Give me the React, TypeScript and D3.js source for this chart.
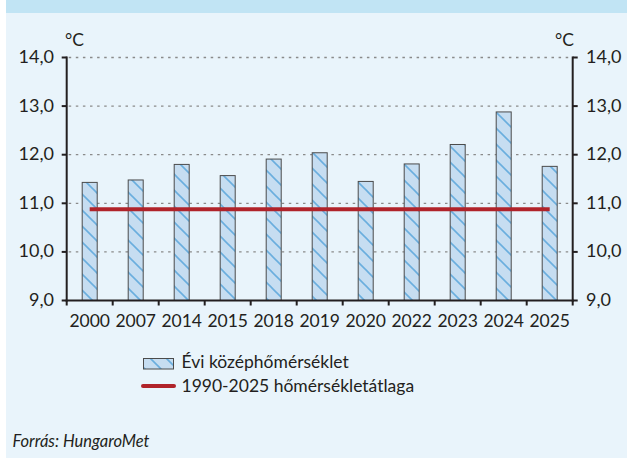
import React from "react";
import * as d3 from "d3";

const years = ["2000", "2007", "2014", "2015", "2018", "2019", "2020", "2022", "2023", "2024", "2025"];
const annualMean = [11.43, 11.48, 11.8, 11.57, 11.91, 12.04, 11.45, 11.81, 12.21, 12.88, 11.76];
const longTermMean = 10.88;
const yTicks = [9, 10, 11, 12, 13, 14];
const seriesLabels = ["Évi középhőmérséklet", "1990-2025 hőmérsékletátlaga"];
const unitLabel = "°C";
const sourceLabel = "Forrás: HungaroMet";

const W = 627;
const H = 459;
const FONT = "Lato, 'Open Sans', sans-serif";

export default function App() {
  const x = d3.scaleBand<string>().domain(years).range([66.7, 572.7]).padding(0);
  const y = d3.scaleLinear().domain([9, 14]).range([300.5, 57.5]);
  const bw = 15;
  const fmt = (v: number) => v.toFixed(1).replace(".", ",");
  const left = x.range()[0];
  const right = x.range()[1];
  const lineX1 = (x(years[0]) as number) + x.bandwidth() / 2;
  const lineX2 = (x(years[years.length - 1]) as number) + x.bandwidth() / 2;

  return (
    <svg
      width={W}
      height={H}
      style={{ position: "fixed", left: 0, top: 0, display: "block" }}
      fontFamily={FONT}
    >
      <defs>
        <pattern id="hatch" patternUnits="userSpaceOnUse" width={16} height={16}>
          <rect width={16} height={16} fill="#c6ddf1" />
          <line x1={0} y1={0} x2={16} y2={16} stroke="#6aaede" strokeWidth={1.6} />
          <line x1={-2} y1={14} x2={2} y2={18} stroke="#6aaede" strokeWidth={1.6} />
          <line x1={14} y1={-2} x2={18} y2={2} stroke="#6aaede" strokeWidth={1.6} />
        </pattern>
      </defs>
      <rect x={0} y={0} width={W} height={H} fill="#ffffff" />
      <rect x={6} y={0} width={W - 6} height={H - 1} fill="#e9f4fb" />
      <rect x={6} y={0} width={W - 6} height={13} fill="#c1e4f4" />

      {/* grid */}
      {yTicks.filter((t) => t > 9).map((t) => (
        <line
          key={"g" + t}
          x1={left + 2}
          x2={right - 2}
          y1={y(t)}
          y2={y(t)}
          stroke="#8a8a8a"
          strokeWidth={1.3}
          strokeDasharray="2.5 4.6"
        />
      ))}

      {/* bars */}
      {years.map((yr, i) => {
        const cx = (x(yr) as number) + x.bandwidth() / 2;
        return (
          <rect
            key={yr}
            x={cx - bw / 2}
            y={y(annualMean[i])}
            width={bw}
            height={y(9) - y(annualMean[i])}
            fill="url(#hatch)"
            stroke="#4b4b4b"
            strokeWidth={1}
          />
        );
      })}

      {/* long-term mean line */}
      <line
        x1={lineX1}
        x2={lineX2}
        y1={y(longTermMean)}
        y2={y(longTermMean)}
        stroke="#b0232a"
        strokeWidth={4}
      />

      {/* axes */}
      <line x1={left} x2={left} y1={y(14) - 1} y2={y(9) + 1} stroke="#231f20" strokeWidth={2} />
      <line x1={right} x2={right} y1={y(14) - 1} y2={y(9) + 1} stroke="#231f20" strokeWidth={2} />
      <line x1={left - 1} x2={right + 1} y1={y(9)} y2={y(9)} stroke="#231f20" strokeWidth={2} />
      {yTicks.map((t) => (
        <g key={"t" + t}>
          <line x1={left - 5} x2={left} y1={y(t)} y2={y(t)} stroke="#231f20" strokeWidth={2} />
          <line x1={right} x2={right + 5} y1={y(t)} y2={y(t)} stroke="#231f20" strokeWidth={2} />
          <text x={54} y={y(t) + 5.5} textAnchor="end" fontSize={18} fill="#231f20">
            {fmt(t)}
          </text>
          <text x={586} y={y(t) + 5.5} textAnchor="start" fontSize={18} fill="#231f20">
            {fmt(t)}
          </text>
        </g>
      ))}
      {years.map((yr, i) => (
        <line
          key={"xt" + i}
          x1={(x(yr) as number)}
          x2={(x(yr) as number)}
          y1={y(9)}
          y2={y(9) + 5}
          stroke="#231f20"
          strokeWidth={2}
        />
      ))}
      <line x1={right} x2={right} y1={y(9)} y2={y(9) + 5} stroke="#231f20" strokeWidth={2} />
      {years.map((yr) => (
        <text
          key={"xl" + yr}
          x={(x(yr) as number) + x.bandwidth() / 2}
          y={327}
          textAnchor="middle"
          fontSize={17.5}
          fill="#231f20"
        >
          {yr}
        </text>
      ))}

      <text x={65} y={45.5} fontSize={17.5} fill="#231f20">{unitLabel}</text>
      <text x={574} y={45.5} fontSize={17.5} textAnchor="end" fill="#231f20">{unitLabel}</text>

      {/* legend */}
      <rect x={143.5} y={358.5} width={30} height={10.5} fill="url(#hatch)" stroke="#4b4b4b" strokeWidth={1} />
      <text x={181.5} y={368} fontSize={17.5} fill="#231f20">{seriesLabels[0]}</text>
      <line x1={143} x2={174} y1={386} y2={386} stroke="#b0232a" strokeWidth={4} strokeLinecap="round" />
      <text x={181.5} y={391.5} fontSize={17.5} fill="#231f20">{seriesLabels[1]}</text>

      <text x={12.5} y={447} fontSize={16.5} fontStyle="italic" fill="#231f20">{sourceLabel}</text>
    </svg>
  );
}
